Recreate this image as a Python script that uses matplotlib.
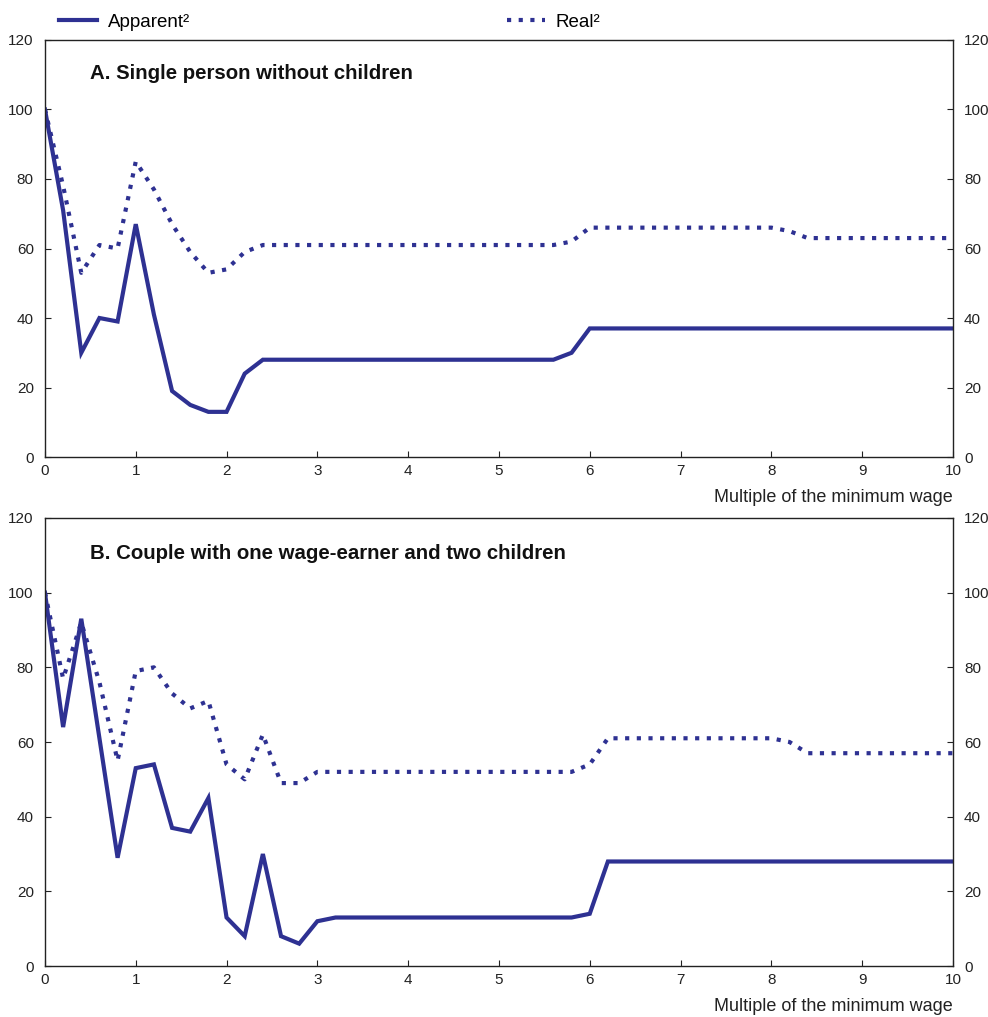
import numpy as np
import matplotlib.pyplot as plt
from matplotlib.lines import Line2D

plt.rcParams['font.family'] = ['Liberation Sans', 'DejaVu Sans']

# multiples of the minimum wage, steps of 0.2
x = np.round(np.arange(0, 10.01, 0.2), 1)

def flat(vals, tail):
    # explicit values followed by a flat tail up to x = 10
    return list(vals) + [tail] * (len(x) - len(vals))

# A. Single person without children
a_apparent = flat([100, 71, 30, 40, 39, 67, 41, 19, 15, 13, 13, 24,
                   28, 28, 28, 28, 28, 28, 28, 28, 28, 28, 28, 28, 28, 28, 28, 28, 28, 30], 37)
a_real = [100, 78, 53, 61, 60, 85, 77, 67, 59, 53, 54, 59,
          61, 61, 61, 61, 61, 61, 61, 61, 61, 61, 61, 61, 61, 61, 61, 61, 61, 62,
          66, 66, 66, 66, 66, 66, 66, 66, 66, 66, 66, 65,
          63, 63, 63, 63, 63, 63, 63, 63, 63]

# B. Couple with one wage-earner and two children
b_apparent = flat([100, 64, 93, 61, 29, 53, 54, 37, 36, 45, 13, 8, 30, 8, 6, 12,
                   13, 13, 13, 13, 13, 13, 13, 13, 13, 13, 13, 13, 13, 13, 14], 28)
b_real = [100, 77, 92, 76, 55, 79, 80, 73, 69, 71, 54, 50, 62, 49, 49, 52,
          52, 52, 52, 52, 52, 52, 52, 52, 52, 52, 52, 52, 52, 52, 54,
          61, 61, 61, 61, 61, 61, 61, 61, 61, 61, 60,
          57, 57, 57, 57, 57, 57, 57, 57, 57]

titles = ['A. Single person without children',
          'B. Couple with one wage-earner and two children']
xlabel = 'Multiple of the minimum wage'
legend_labels = ['Apparent²', 'Real²']

col = '#2e3192'
dots = (0, (1, 1.8))

fig = plt.figure(figsize=(9.88, 10.17), dpi=100)
axA = fig.add_axes([0.0455, 0.5506, 0.919, 0.4101])
axB = fig.add_axes([0.0455, 0.0501, 0.919, 0.4406])

for ax, app, real, title in [(axA, a_apparent, a_real, titles[0]),
                             (axB, b_apparent, b_real, titles[1])]:
    ax.plot(x, app, color=col, lw=3, solid_joinstyle='miter')
    ax.plot(x, real, color=col, lw=3, linestyle=dots)
    ax.set_xlim(0, 10)
    ax.set_ylim(0, 120)
    ax.set_xticks(range(0, 11))
    ax.set_yticks(range(0, 121, 20))
    ax.tick_params(direction='in', length=4, width=0.8, labelsize=11,
                   right=True, labelright=True, colors='#222222', pad=8)
    ax.tick_params(axis='x', pad=5)
    for s in ax.spines.values():
        s.set_linewidth(1.0)
        s.set_color('#222222')
    ax.text(0.05, 0.92, title, transform=ax.transAxes, fontsize=14.7,
            fontweight='bold', va='center', color='#111111')
    ax.set_xlabel(xlabel, loc='right', fontsize=13, labelpad=8, color='#222222')

handles = [Line2D([], [], color=col, lw=3),
           Line2D([], [], color=col, lw=3, linestyle=dots)]
fig.legend(handles, legend_labels, ncol=2, loc='center left',
           bbox_to_anchor=(0.043, 0.978), frameon=False, fontsize=13.5,
           handlelength=2.0, columnspacing=16.9, handletextpad=0.6)

fig.savefig('out.png', dpi=100)
